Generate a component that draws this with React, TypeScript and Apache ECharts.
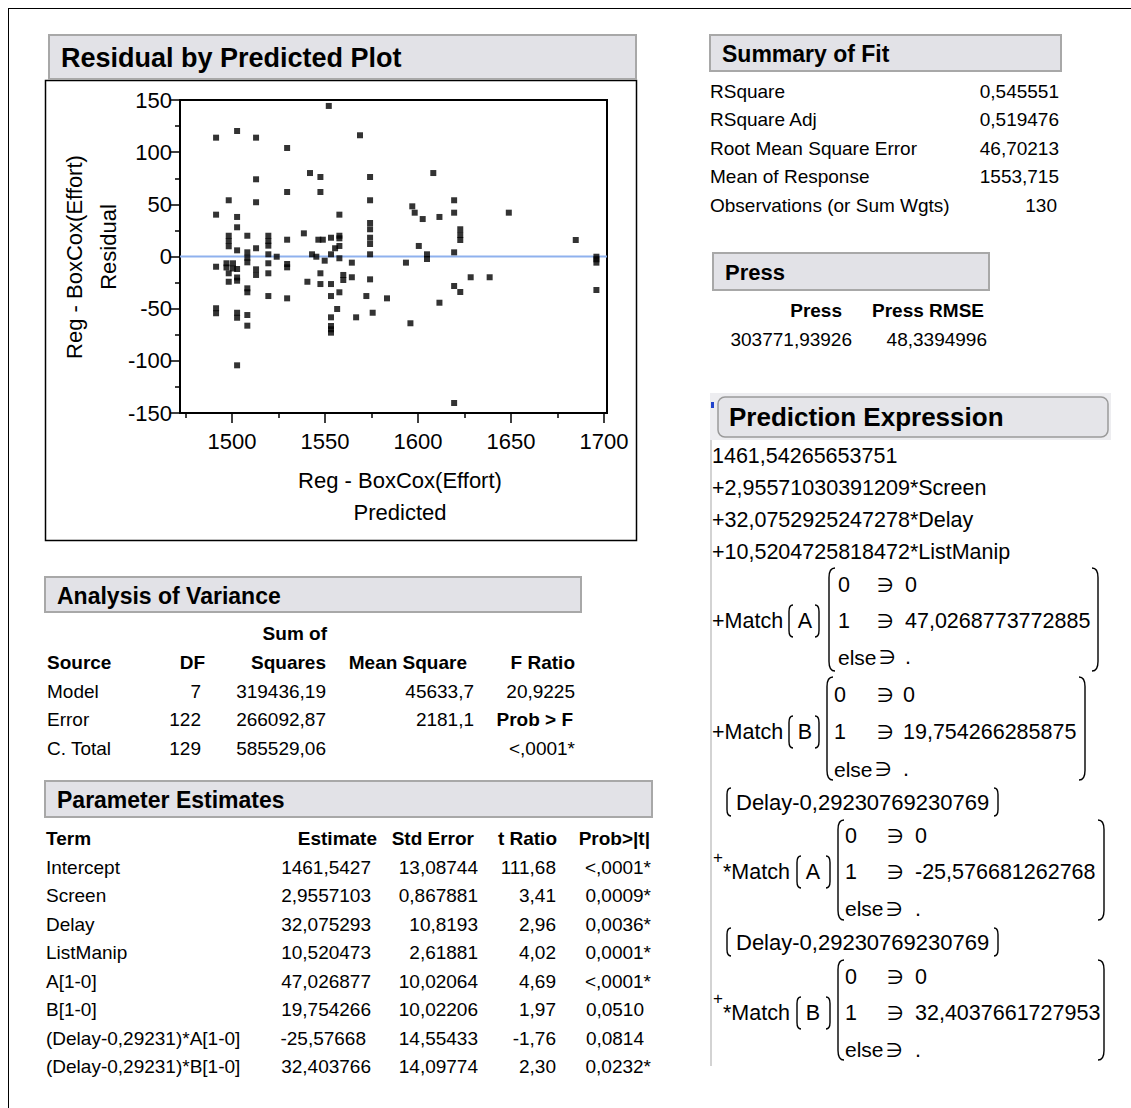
import React, { useEffect, useRef } from "react";
import * as echarts from "echarts";

const FONT = '"Liberation Sans", Arial, "DejaVu Sans", sans-serif';

// Residual by predicted: predicted value and residual for each observation
const predicted = [
  1491.4, 1491.4, 1491.4, 1491.4, 1491.4,
  1498.2, 1498.2, 1498.2, 1498.2, 1498.2, 1498.2,
  1497.0, 1497.0, 1500.5, 1500.5,
  1502.7, 1502.7, 1502.7, 1502.7, 1502.7, 1502.7, 1502.7, 1502.7, 1502.7, 1502.7,
  1508.2, 1508.2, 1508.2, 1508.2, 1508.2, 1508.2, 1508.2, 1508.2,
  1512.9, 1512.9, 1512.9, 1512.9, 1512.9, 1512.9,
  1519.5, 1519.5, 1519.5, 1519.5, 1519.5, 1519.5, 1519.5,
  1524.0,
  1529.6, 1529.6, 1529.6, 1529.6, 1529.6, 1529.6,
  1538.6, 1540.5, 1541.9, 1543.0, 1545.3, 1546.4,
  1547.5, 1547.5, 1547.5, 1547.5,
  1548.8, 1549.8, 1552.0,
  1553.2, 1553.2, 1553.2, 1553.2, 1553.2, 1553.2, 1553.2, 1553.2,
  1555.4, 1556.5,
  1557.7, 1557.7, 1557.7, 1557.7, 1557.7, 1557.7,
  1559.8, 1559.8, 1564.4, 1564.4,
  1566.7, 1568.8, 1572.2,
  1574.2, 1574.2, 1574.2, 1574.2, 1574.2, 1574.2, 1574.2, 1574.2,
  1575.6, 1583.3, 1593.5, 1595.9, 1596.9, 1598.2, 1600.4, 1602.5,
  1604.8, 1604.8, 1608.2, 1611.5, 1611.5,
  1619.4, 1619.4, 1619.4, 1619.4, 1619.4,
  1622.7, 1622.7, 1622.7, 1622.7,
  1628.3, 1638.5, 1648.8, 1684.8,
  1695.9, 1695.9, 1695.9, 1695.9,
];
const residual = [
  113.9, 40.1, -9.8, -49.6, -54.4,
  53.9, 19.9, 14.9, 9.8, -16.1, -24.2,
  -6.5, -10.5, -6.5, -11.5,
  120.3, 37.9, 28.0, 5.9, -12.0, -20.1, -23.2, -53.9, -58.7, -104.3,
  19.9, 4.0, -1.2, -5.6, -30.5, -34.3, -56.1, -66.3,
  113.9, 74.0, 52.0, 7.9, -12.3, -17.7,
  19.9, 14.9, 10.4, 2.1, -6.5, -16.1, -37.9,
  -0.2,
  104.0, 61.8, 16.1, -7.2, -10.4, -40.1,
  22.2, -24.2, 80.0, 2.1, -0.2, 16.1,
  76.2, 61.8, -16.1, -26.4,
  16.1, -4.0, 144.3,
  18.0, 2.1, -26.4, -37.9, -58.3, -66.6, -69.8, -73.0,
  7.9, -50.3,
  40.1, 19.9, 17.4, 10.1, -1.7, -34.3,
  -17.7, -22.5, -5.9, -19.9,
  -58.3, 116.2, -37.9,
  76.2, 53.9, 32.1, 26.1, 18.0, 12.0, 2.1, -21.9,
  -53.9, -40.1, -5.9, -64.0, 48.1, 42.0, 10.1, 35.9,
  2.1, -2.4, 80.0, 37.9, -44.3,
  53.9, 42.0, 4.0, -28.3, -140.4,
  26.1, 20.6, 15.8, -34.0,
  -19.9, -19.9, 42.0, 15.8,
  -0.2, -2.7, -5.9, -32.1,
];

const xMajorTicks = [1500, 1550, 1600, 1650, 1700];
const xMinorTicks = [1475, 1525, 1575, 1625, 1675];
const X_MIN = 1472;
const X_MAX = 1701.6;
const zeroLine = [[X_MIN, 0], [X_MAX, 0]];

// Summary of Fit
const fitLabels = ["RSquare", "RSquare Adj", "Root Mean Square Error", "Mean of Response", "Observations (or Sum Wgts)"];
const fitValues = ["0,545551", "0,519476", "46,70213", "1553,715", "130"];

// Press
const pressHeaders = ["Press", "Press RMSE"];
const pressValues = ["303771,93926", "48,3394996"];

// Analysis of Variance
const anovaSources = ["Model", "Error", "C. Total"];
const anovaDF = ["7", "122", "129"];
const anovaSS = ["319436,19", "266092,87", "585529,06"];
const anovaMS = ["45633,7", "2181,1", ""];
const anovaF = ["20,9225", "Prob > F", "<,0001*"];

// Parameter Estimates
const terms = ["Intercept", "Screen", "Delay", "ListManip", "A[1-0]", "B[1-0]", "(Delay-0,29231)*A[1-0]", "(Delay-0,29231)*B[1-0]"];
const estimates = ["1461,5427", "2,9557103", "32,075293", "10,520473", "47,026877", "19,754266", "-25,57668", "32,403766"];
const stdErrors = ["13,08744", "0,867881", "10,8193", "2,61881", "10,02064", "10,02206", "14,55433", "14,09774"];
const tRatios = ["111,68", "3,41", "2,96", "4,02", "4,69", "1,97", "-1,76", "2,30"];
const probs = ["<,0001*", "0,0009*", "0,0036*", "0,0001*", "<,0001*", "0,0510", "0,0814", "0,0232*"];

// Prediction expression
const exprLines = ["1461,54265653751", "+2,95571030391209*Screen", "+32,0752925247278*Delay", "+10,5204725818472*ListManip"];
const matchValues = ["47,0268773772885", "19,754266285875", "-25,576681262768", "32,4037661727953"];
const delayTerm = "Delay-0,29230769230769";
const ARROW = "\u220B";

// Tall bracket shapes for the formula display
const LeftBracket = echarts.graphic.extendShape({
  shape: { x: 0, y: 0, w: 6, h: 100 },
  buildPath(ctx: any, s: any) {
    const k = Math.min(s.w * 1.6, s.h / 3);
    ctx.moveTo(s.x + s.w, s.y);
    ctx.quadraticCurveTo(s.x, s.y, s.x, s.y + k);
    ctx.lineTo(s.x, s.y + s.h - k);
    ctx.quadraticCurveTo(s.x, s.y + s.h, s.x + s.w, s.y + s.h);
  },
});
const RightBracket = echarts.graphic.extendShape({
  shape: { x: 0, y: 0, w: 6, h: 100 },
  buildPath(ctx: any, s: any) {
    const k = Math.min(s.w * 1.6, s.h / 3);
    ctx.moveTo(s.x - s.w, s.y);
    ctx.quadraticCurveTo(s.x, s.y, s.x, s.y + k);
    ctx.lineTo(s.x, s.y + s.h - k);
    ctx.quadraticCurveTo(s.x, s.y + s.h, s.x - s.w, s.y + s.h);
  },
});
echarts.graphic.registerShape("lbracket", LeftBracket);
echarts.graphic.registerShape("rbracket", RightBracket);

type TxtOpt = { size?: number; bold?: boolean; align?: string; rotation?: number; color?: string };
const txt = (text: string, x: number, y: number, o: TxtOpt = {}) => ({
  type: "text",
  x,
  y,
  rotation: o.rotation || 0,
  silent: true,
  z: 10,
  style: {
    text,
    fill: o.color || "#000",
    fontSize: o.size || 19,
    fontWeight: o.bold ? "bold" : "normal",
    fontFamily: FONT,
    align: o.align || "left",
    textAlign: o.align || "left",
    verticalAlign: "middle",
    textVerticalAlign: "middle",
  },
});

const header = (x: number, y: number, w: number, h: number, text: string, size: number) => [
  {
    type: "rect",
    silent: true,
    z: 5,
    shape: { x, y, width: w, height: h },
    style: { fill: "#e2e2e7", stroke: "#a8a8a8", lineWidth: 2 },
  },
  txt(text, x + 12, y + h / 2 + 1, { bold: true, size }),
];

const bracket = (type: string, x: number, y: number, h: number, w: number) => ({
  type,
  silent: true,
  z: 10,
  shape: { x, y, w, h },
  style: { stroke: "#000", fill: "none", lineWidth: 1.4 },
});

type Block = {
  star: boolean; letter: string; value: string;
  yMid: number; top: number; bottom: number;
  parenL: number; parenR: number; matL: number; matR: number;
  col: number; arrow: number; val: number; rowGap: number;
};

const matchBlock = (b: Block) => {
  const S = 21.5;
  const els: any[] = [];
  if (b.star) {
    els.push(txt("+", 713, b.yMid - 15, { size: 17 }));
    els.push(txt("*Match", 723, b.yMid, { size: S }));
  } else {
    els.push(txt("+Match", 712, b.yMid, { size: S }));
  }
  els.push(bracket("lbracket", b.parenL, b.yMid - 16, 32, 4));
  els.push(txt(b.letter, b.parenL + 16, b.yMid, { size: S, align: "center" }));
  els.push(bracket("rbracket", b.parenR, b.yMid - 16, 32, 4));
  els.push(bracket("lbracket", b.matL, b.top, b.bottom - b.top, 6));
  els.push(bracket("rbracket", b.matR, b.top, b.bottom - b.top, 6));
  const y0 = b.yMid - b.rowGap;
  const y2 = b.yMid + b.rowGap;
  els.push(txt("0", b.col, y0, { size: S }));
  els.push(txt(ARROW, b.arrow, y0, { size: S - 2 }));
  els.push(txt("0", b.val, y0, { size: S }));
  els.push(txt("1", b.col, b.yMid, { size: S }));
  els.push(txt(ARROW, b.arrow, b.yMid, { size: S - 2 }));
  els.push(txt(b.value, b.val, b.yMid, { size: S }));
  els.push(txt("else", b.col, y2, { size: S - 0.5 }));
  els.push(txt(ARROW, b.col + 41, y2, { size: S - 2 }));
  els.push(txt(".", b.val, y2, { size: S }));
  return els;
};

const delayLine = (y: number) => [
  bracket("lbracket", 727, y - 14, 28, 4),
  txt(delayTerm, 736, y, { size: 22 }),
  bracket("rbracket", 998, y - 14, 28, 4),
];

function buildGraphics() {
  const g: any[] = [];

  // page frame
  g.push({ type: "line", silent: true, shape: { x1: 8, y1: 8.5, x2: 1131, y2: 8.5 }, style: { stroke: "#000", lineWidth: 1 } });
  g.push({ type: "line", silent: true, shape: { x1: 8.5, y1: 8, x2: 8.5, y2: 1108 }, style: { stroke: "#000", lineWidth: 1 } });

  // residual plot panel
  g.push(...header(49, 35, 587, 44, "Residual by Predicted Plot", 27));
  g.push({ type: "rect", silent: true, shape: { x: 45.5, y: 80.5, width: 591, height: 460 }, style: { fill: "none", stroke: "#000", lineWidth: 1.5 } });
  g.push(txt("Reg - BoxCox(Effort)", 400, 480, { size: 22, align: "center" }));
  g.push(txt("Predicted", 400, 512, { size: 22, align: "center" }));
  g.push(txt("Reg - BoxCox(Effort)", 74, 257, { size: 22, align: "center", rotation: Math.PI / 2 }));
  g.push(txt("Residual", 108, 247, { size: 22, align: "center", rotation: Math.PI / 2 }));

  // Summary of Fit
  g.push(...header(710, 35, 351, 36, "Summary of Fit", 23));
  fitLabels.forEach((l, i) => {
    const y = 91 + i * 28.6;
    g.push(txt(l, 710, y, { size: 19 }));
    g.push(txt(fitValues[i], i === 4 ? 1057 : 1059, y, { size: 19, align: "right" }));
  });

  // Press
  g.push(...header(713, 253, 276, 37, "Press", 22));
  g.push(txt(pressHeaders[0], 842, 310, { size: 19, bold: true, align: "right" }));
  g.push(txt(pressHeaders[1], 984, 310, { size: 19, bold: true, align: "right" }));
  g.push(txt(pressValues[0], 852, 339, { size: 19, align: "right" }));
  g.push(txt(pressValues[1], 987, 339, { size: 19, align: "right" }));

  // Analysis of Variance
  g.push(...header(45, 577, 536, 35, "Analysis of Variance", 23));
  g.push(txt("Sum of", 327, 633, { size: 19, bold: true, align: "right" }));
  g.push(txt("Source", 47, 662, { size: 19, bold: true }));
  g.push(txt("DF", 205, 662, { size: 19, bold: true, align: "right" }));
  g.push(txt("Squares", 326, 662, { size: 19, bold: true, align: "right" }));
  g.push(txt("Mean Square", 467, 662, { size: 19, bold: true, align: "right" }));
  g.push(txt("F Ratio", 575, 662, { size: 19, bold: true, align: "right" }));
  anovaSources.forEach((s, i) => {
    const y = 691 + i * 28.6;
    g.push(txt(s, 47, y, { size: 19 }));
    g.push(txt(anovaDF[i], 201, y, { size: 19, align: "right" }));
    g.push(txt(anovaSS[i], 326, y, { size: 19, align: "right" }));
    if (anovaMS[i]) g.push(txt(anovaMS[i], 474, y, { size: 19, align: "right" }));
    g.push(txt(anovaF[i], i === 1 ? 573 : 575, y, { size: 19, align: "right", bold: i === 1 }));
  });

  // Parameter Estimates
  g.push(...header(45, 781, 607, 36, "Parameter Estimates", 23));
  g.push(txt("Term", 46, 838, { size: 19, bold: true }));
  g.push(txt("Estimate", 377, 838, { size: 19, bold: true, align: "right" }));
  g.push(txt("Std Error", 474, 838, { size: 19, bold: true, align: "right" }));
  g.push(txt("t Ratio", 557, 838, { size: 19, bold: true, align: "right" }));
  g.push(txt("Prob>|t|", 650, 838, { size: 19, bold: true, align: "right" }));
  terms.forEach((t, i) => {
    const y = 867 + i * 28.57;
    g.push(txt(t, 46, y, { size: 19 }));
    g.push(txt(estimates[i], estimates[i].startsWith("-") ? 366 : 371, y, { size: 19, align: "right" }));
    g.push(txt(stdErrors[i], 478, y, { size: 19, align: "right" }));
    g.push(txt(tRatios[i], 556, y, { size: 19, align: "right" }));
    const p = probs[i];
    g.push(txt(p, p.endsWith("*") ? 651 : 644, y, { size: 19, align: "right" }));
  });

  // Prediction Expression panel
  g.push({ type: "rect", silent: true, z: 1, shape: { x: 710, y: 393, width: 401, height: 47 }, style: { fill: "#ededf0" } });
  g.push({ type: "rect", silent: true, z: 5, shape: { x: 718, y: 397, width: 390, height: 40, r: 7 }, style: { fill: "#e5e5e9", stroke: "#9a9a9a", lineWidth: 1.5 } });
  g.push(txt("Prediction Expression", 729, 417, { size: 26, bold: true }));
  g.push({ type: "rect", silent: true, z: 6, shape: { x: 711, y: 402, width: 3, height: 6 }, style: { fill: "#2244cc" } });
  g.push({ type: "line", silent: true, shape: { x1: 711, y1: 440, x2: 711, y2: 1066 }, style: { stroke: "#c4c4c4", lineWidth: 1.5 } });

  exprLines.forEach((l, i) => g.push(txt(l, 712, 456 + i * 32, { size: 21.5 })));

  g.push(...matchBlock({ star: false, letter: "A", value: matchValues[0], yMid: 621, top: 568, bottom: 671, parenL: 789, parenR: 819, matL: 829, matR: 1098, col: 838, arrow: 877, val: 905, rowGap: 36 }));
  g.push(...matchBlock({ star: false, letter: "B", value: matchValues[1], yMid: 732, top: 677, bottom: 780, parenL: 789, parenR: 819, matL: 827, matR: 1085, col: 834, arrow: 877, val: 903, rowGap: 37 }));
  g.push(...delayLine(802));
  g.push(...matchBlock({ star: true, letter: "A", value: matchValues[2], yMid: 872, top: 820, bottom: 920, parenL: 797, parenR: 830, matL: 838, matR: 1104, col: 845, arrow: 887, val: 915, rowGap: 36.5 }));
  g.push(...delayLine(942));
  g.push(...matchBlock({ star: true, letter: "B", value: matchValues[3], yMid: 1013, top: 960, bottom: 1060, parenL: 797, parenR: 830, matL: 838, matR: 1104, col: 845, arrow: 887, val: 915, rowGap: 36.5 }));

  return g;
}

export default function App() {
  const ref = useRef<HTMLDivElement>(null);

  useEffect(() => {
    if (!ref.current) return;
    const chart = echarts.init(ref.current, undefined, { renderer: "svg" });
    const axisLabel = { color: "#000", fontSize: 22, fontFamily: FONT };
    chart.setOption({
      animation: false,
      backgroundColor: "#fff",
      grid: {
        left: 180,
        top: 100,
        width: 427,
        height: 313,
        show: true,
        borderColor: "#000",
        borderWidth: 2,
        backgroundColor: "#fff",
      },
      xAxis: [
        {
          type: "value",
          position: "bottom",
          min: X_MIN,
          max: X_MAX,
          axisLine: { show: true, onZero: false, lineStyle: { color: "#000", width: 2 } },
          axisTick: { show: true, length: 10, lineStyle: { color: "#000", width: 1.5 }, customValues: xMajorTicks },
          axisLabel: { ...axisLabel, margin: 17, customValues: xMajorTicks, formatter: (v: number) => String(v) },
          splitLine: { show: false },
        },
        {
          type: "value",
          position: "bottom",
          min: X_MIN,
          max: X_MAX,
          axisLine: { show: false, onZero: false },
          axisTick: { show: true, length: 5, lineStyle: { color: "#000", width: 1.5 }, customValues: xMinorTicks },
          axisLabel: { show: false },
          splitLine: { show: false },
        },
      ],
      yAxis: {
        type: "value",
        min: -150,
        max: 150,
        interval: 50,
        axisLine: { show: true, onZero: false, lineStyle: { color: "#000", width: 2 } },
        axisTick: { show: true, length: 10, lineStyle: { color: "#000", width: 1.5 } },
        minorTick: { show: true, splitNumber: 2, length: 5, lineStyle: { color: "#000", width: 1.5 } },
        axisLabel: { ...axisLabel, margin: 8, formatter: (v: number) => String(v) },
        splitLine: { show: false },
        minorSplitLine: { show: false },
      },
      series: [
        {
          type: "line",
          xAxisIndex: 0,
          z: 1,
          silent: true,
          showSymbol: false,
          symbol: "none",
          lineStyle: { color: "#8fb1ee", width: 2 },
          data: zeroLine,
        },
        {
          type: "scatter",
          xAxisIndex: 0,
          z: 3,
          symbol: "rect",
          symbolSize: 6,
          itemStyle: { color: "#000" },
          data: predicted.map((p, i) => [p, residual[i]]),
        },
      ],
      graphic: buildGraphics(),
    });
    return () => chart.dispose();
  }, []);

  return (
    <div
      ref={ref}
      style={{ position: "absolute", left: 0, top: 0, width: 1131, height: 1108, background: "#fff" }}
    />
  );
}
